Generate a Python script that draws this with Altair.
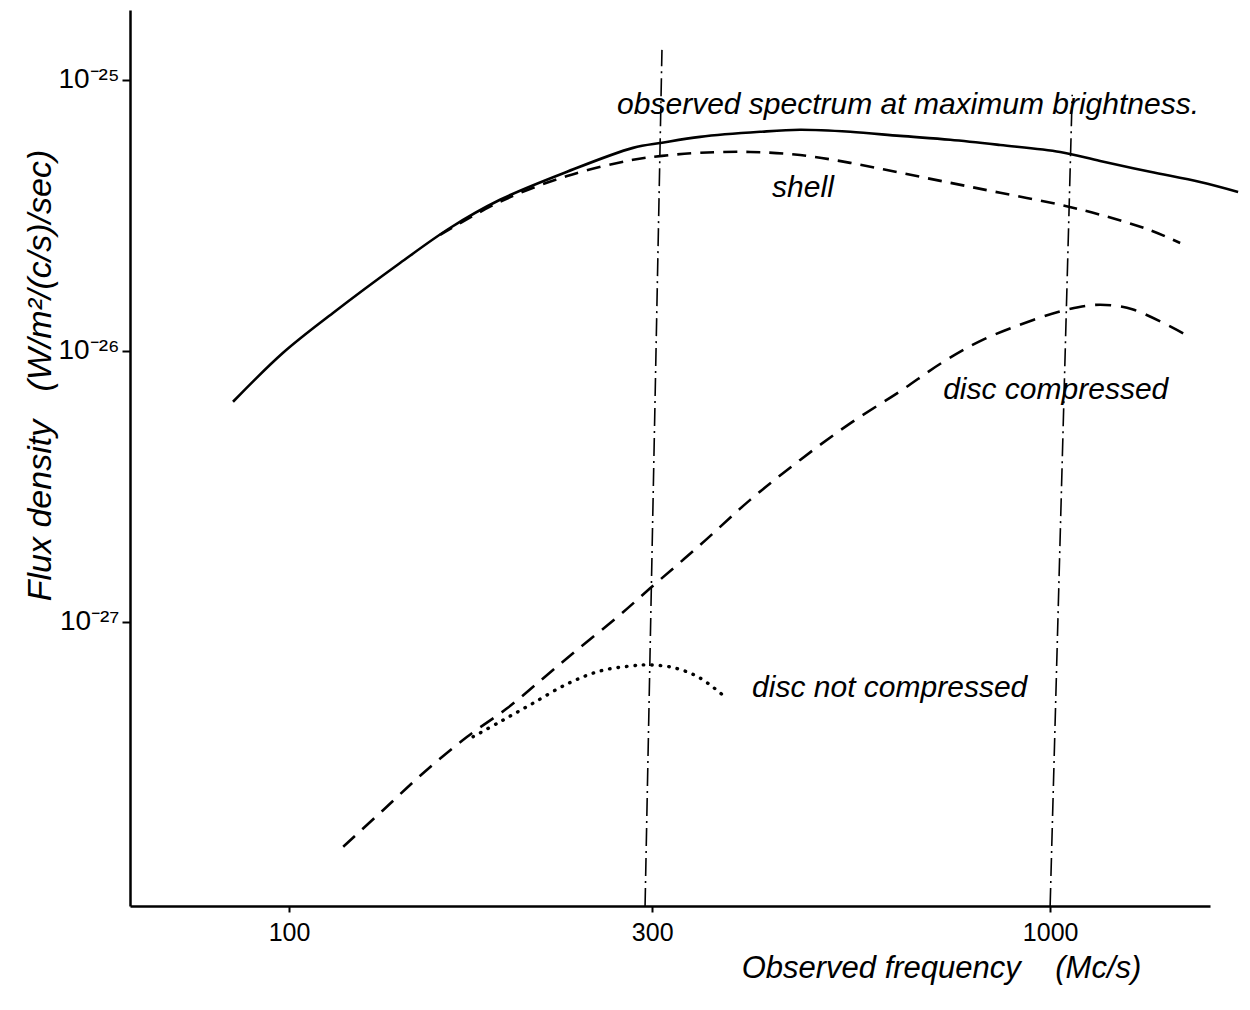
import altair as alt
import pandas as pd

# ---- data (frequency in Mc/s, flux density in W/m^2/(c/s)/sec) ----
freq_obs = [84.4, 98.2, 114.2, 139.9, 162.7, 189.3, 231.9, 283.1, 309.1, 346.7, 415.8,
            469.4, 546.1, 635.3, 739.0, 859.8, 1030.7, 1163.3, 1353.2, 1574.4, 1766.0]
flux_obs = [6.49e-27, 9.84e-27, 1.38e-26, 2.11e-26, 2.84e-26, 3.61e-26, 4.58e-26, 5.61e-26,
            5.86e-26, 6.16e-26, 6.43e-26, 6.54e-26, 6.43e-26, 6.21e-26, 6.01e-26, 5.75e-26,
            5.42e-26, 5.02e-26, 4.58e-26, 4.20e-26, 3.86e-26]

freq_shell = [157.9, 189.3, 231.9, 283.1, 309.1, 346.7, 403.5, 469.4, 546.1, 635.3, 739.0,
              859.8, 1030.7, 1163.3, 1353.2, 1481.9]
flux_shell = [2.68e-26, 3.55e-26, 4.42e-26, 5.07e-26, 5.24e-26, 5.38e-26, 5.42e-26, 5.28e-26,
              4.94e-26, 4.54e-26, 4.17e-26, 3.83e-26, 3.46e-26, 3.18e-26, 2.79e-26, 2.50e-26]

freq_disc = [117.8, 132.9, 150.1, 171.4, 193.4, 215.8, 238.9, 269.8, 298.1, 346.7, 403.5,
             469.4, 546.1, 635.3, 723.5, 816.6, 950.0, 1052.7, 1163.3, 1285.4, 1495.6]
flux_disc = [1.48e-28, 2.02e-28, 2.77e-28, 3.77e-28, 4.80e-28, 6.20e-28, 7.88e-28, 1.04e-27,
             1.33e-27, 1.92e-27, 2.82e-27, 3.96e-27, 5.40e-27, 7.10e-27, 9.10e-27, 1.10e-26,
             1.30e-26, 1.42e-26, 1.48e-26, 1.42e-26, 1.16e-26]

freq_nc = [174.5, 189.3, 207.3, 231.9, 256.3, 283.1, 298.1, 321.5, 346.7, 374.1]
flux_nc = [3.77e-28, 4.28e-28, 4.94e-28, 5.90e-28, 6.59e-28, 6.89e-28, 6.94e-28, 6.76e-28,
           6.21e-28, 5.28e-28]

# hand-drawn guide lines near 300 and 1000 Mc/s
guide_id = ["g300", "g300", "g1000", "g1000"]
guide_freq = [309.0, 293.6, 1069.0, 1000.0]
guide_flux = [1.29e-25, 8.95e-29, 8.81e-26, 8.95e-29]

note_text = ["observed spectrum at maximum brightness.", "shell", "disc compressed",
             "disc not compressed"]
note_freq = [269.8, 431.2, 723.5, 405.9]
note_flux = [8.09e-26, 3.99e-26, 7.18e-27, 5.70e-28]

x_ticks = [100, 300, 1000]
y_ticks = [1e-25, 1e-26, 1e-27]

FONT = "Liberation Sans"
NB = "\u00a0"

xscale = alt.Scale(type="log", domain=[61.8, 1622], nice=False)
yscale = alt.Scale(type="log", domain=[8.95e-29, 1.81e-25], nice=False)

x_axis = alt.Axis(
    values=x_ticks, title="Observed" + NB + "frequency" + NB * 4 + "(Mc/s)",
    labelExpr="format(datum.value, 'd')",
    grid=False, domainColor="black", domainWidth=2.5, tickColor="black", tickWidth=2,
    tickSize=6, labelPadding=8, labelFontSize=25, labelFont=FONT, labelColor="black",
    titleFont=FONT, titleFontSize=31, titleFontWeight="normal", titleFontStyle="italic",
    titleColor="black", titleX=811, titleY=62, titleAlign="center", titleBaseline="middle",
    labelFlush=False,
)
y_axis = alt.Axis(
    values=y_ticks, title="Flux" + NB + "density" + NB * 3 + "(W/m²/(c/s)/sec)",
    labelExpr="'10' + (round(log(datum.value)/LN10) == -25 ? '⁻²⁵' : (round(log(datum.value)/LN10) == -26 ? '⁻²⁶' : '⁻²⁷'))",
    grid=False, domainColor="black", domainWidth=2.5, tickColor="black", tickWidth=2,
    tickSize=8, labelPadding=3, labelFontSize=28, labelFont=FONT, labelColor="black",
    titleFont=FONT, titleFontSize=34, titleFontWeight="normal", titleFontStyle="italic",
    titleColor="black", titleX=-90, titleY=365, titleAngle=270, titleAlign="center",
    titleBaseline="middle", labelFlush=False,
)

X = alt.X("f:Q", scale=xscale, axis=x_axis)
Y = alt.Y("v:Q", scale=yscale, axis=y_axis)

df_obs = pd.DataFrame({"f": freq_obs, "v": flux_obs})
df_shell = pd.DataFrame({"f": freq_shell, "v": flux_shell})
df_disc = pd.DataFrame({"f": freq_disc, "v": flux_disc})
df_nc = pd.DataFrame({"f": freq_nc, "v": flux_nc})
df_guide = pd.DataFrame({"id": guide_id, "f": guide_freq, "v": guide_flux})
df_note = pd.DataFrame({"t": note_text, "f": note_freq, "v": note_flux})

obs = alt.Chart(df_obs).mark_line(color="black", strokeWidth=2.6,
                                  interpolate="catmull-rom").encode(x=X, y=Y)
shell = alt.Chart(df_shell).mark_line(color="black", strokeWidth=2.6, strokeDash=[14, 9],
                                      interpolate="catmull-rom").encode(x=X, y=Y)
disc = alt.Chart(df_disc).mark_line(color="black", strokeWidth=2.6, strokeDash=[16, 10],
                                    interpolate="catmull-rom").encode(x=X, y=Y)
nc = alt.Chart(df_nc).mark_line(color="black", strokeWidth=3.4, strokeDash=[0.5, 8],
                                strokeCap="round", interpolate="catmull-rom").encode(x=X, y=Y)
guides = alt.Chart(df_guide).mark_line(color="black", strokeWidth=1.6,
                                       strokeDash=[18, 5, 2, 5]).encode(
    x=X, y=Y, detail="id:N")
notes = alt.Chart(df_note).mark_text(align="left", baseline="middle", font=FONT, fontSize=30,
                                     fontStyle="italic", color="black").encode(
    x=X, y=Y, text="t:N")

chart = alt.layer(obs, shell, disc, nc, guides, notes).properties(
    width=1080, height=896,
    autosize=alt.AutoSizeParams(type="none"),
    padding={"left": 122, "top": 2, "right": 32, "bottom": 90},
    background="white",
).configure_view(stroke=None)

chart.save("out.html", embed_options={"renderer": "svg", "actions": False})
